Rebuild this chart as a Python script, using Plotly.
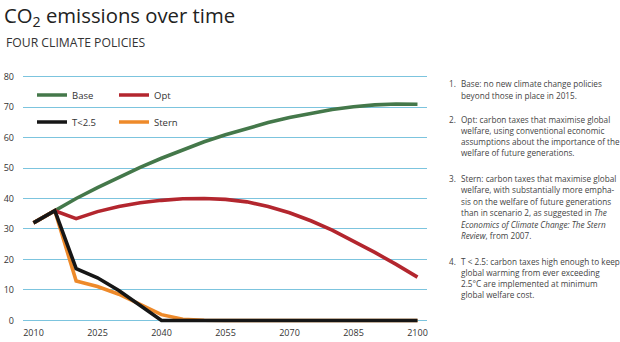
import plotly.graph_objects as go

years = list(range(2010, 2101, 5))
base = [32, 36, 40, 43.6, 47, 50.2, 53.2, 56, 58.6, 60.9, 63, 64.9, 66.6, 68, 69.2, 70.1, 70.7, 71, 70.9]
opt = [32, 36, 33.4, 35.7, 37.4, 38.6, 39.4, 39.9, 40, 39.7, 38.9, 37.4, 35.3, 32.7, 29.6, 26.1, 22.3, 18.4, 14.2]
stern = [32, 36, 12.9, 11.1, 8.6, 5.2, 1.9, 0.4, 0.05, 0, 0, 0, 0, 0, 0, 0, 0, 0, 0]
t25 = [32, 36, 17, 14, 9.8, 5, 0, 0, 0, 0, 0, 0, 0, 0, 0, 0, 0, 0, 0]

y_ticks = [0, 10, 20, 30, 40, 50, 60, 70, 80]
x_ticks = [2010, 2025, 2040, 2055, 2070, 2085, 2100]

notes = [
    ("1.", ["Base: no new climate change policies",
            "beyond those in place in 2015."]),
    ("2.", ["Opt: carbon taxes that maximise global",
            "welfare, using conventional economic",
            "assumptions about the importance of the",
            "welfare of future generations."]),
    ("3.", ["Stern: carbon taxes that maximise global",
            "welfare, with substantially more empha-",
            "sis on the welfare of future generations",
            "than in scenario 2, as suggested in <i>The</i>",
            "<i>Economics of Climate Change: The Stern</i>",
            "<i>Review</i>, from 2007."]),
    ("4.", ["T < 2.5: carbon taxes high enough to keep",
            "global warming from ever exceeding",
            "2.5°C are implemented at minimum",
            "global welfare cost."]),
]
note_tops = [84, 119.3, 178.3, 261]
note_gaps = [11.2, 10.9, 11.5, 11.3]

FONT = "Open Sans"
W, H = 620, 342
L, R, T, B = 23, 193, 72, 17
PW, PH = W - L - R, H - T - B


def px(x):
    return (x - L) / PW


def py(y):
    return (H - B - y) / PH


fig = go.Figure()
series = [
    ("Base", base, "#44784a", "legend", 1),
    ("Opt", opt, "#b3262e", "legend", 2),
    ("Stern", stern, "#ee8a2a", "legend2", 4),
    ("T<2.5", t25, "#161616", "legend2", 3),
]
for name, vals, col, leg, rank in series:
    fig.add_trace(go.Scatter(
        x=years, y=vals, name=name, mode="lines",
        line=dict(color=col, width=3.6),
        legend=leg, legendrank=rank,
    ))

fig.add_shape(type="rect", xref="paper", yref="paper",
              x0=px(33), x1=px(192), y0=py(132), y1=py(86),
              fillcolor="white", line_width=0, layer="between")

legend_common = dict(
    orientation="h", xanchor="left", yanchor="middle",
    bgcolor="rgba(0,0,0,0)", font=dict(family=FONT, size=9.5, color="#333"),
    entrywidth=37, itemwidth=30,
)
fig.update_layout(
    width=W, height=H,
    margin=dict(l=L, r=R, t=T, b=B, autoexpand=False),
    paper_bgcolor="white", plot_bgcolor="white",
    legend=dict(x=px(32), y=py(95), **legend_common),
    legend2=dict(x=px(32), y=py(122), **legend_common),
    xaxis=dict(range=[2007.54, 2102.23], tickvals=x_ticks, showgrid=False,
               zeroline=False, showline=False, ticks="",
               tickfont=dict(family=FONT, size=9, color="#333"),
               ticklabelstandoff=1),
    yaxis=dict(range=[-1.5, 81.5], tickvals=y_ticks, showgrid=True,
               gridcolor="#7cc4de", gridwidth=1.2, zeroline=False,
               showline=False, ticks="",
               tickfont=dict(family=FONT, size=9, color="#333"),
               ticklabelstandoff=8),
)

ann = [
    dict(text="CO<sub>2</sub> emissions over time", x=px(3), y=py(0), xanchor="left",
         yanchor="top", font=dict(family=FONT, size=20.3, color="#222")),
    dict(text="FOUR CLIMATE POLICIES", x=px(5), y=py(42.5), xanchor="left",
         yanchor="middle", font=dict(family=FONT, size=12.2, color="#333")),
]
for (num, lines), top, gap in zip(notes, note_tops, note_gaps):
    ann.append(dict(text=num, x=px(457), y=py(top), xanchor="right", yanchor="middle",
                    font=dict(family=FONT, size=8.2, color="#444")))
    for k, line in enumerate(lines):
        ann.append(dict(text=line, x=px(459.5), y=py(top + k * gap), xanchor="left",
                        yanchor="middle", align="left",
                        font=dict(family=FONT, size=8.2, color="#444")))
for a in ann:
    a.update(xref="paper", yref="paper", showarrow=False, borderpad=0)
fig.update_layout(annotations=ann)

fig.write_html("out.html")
